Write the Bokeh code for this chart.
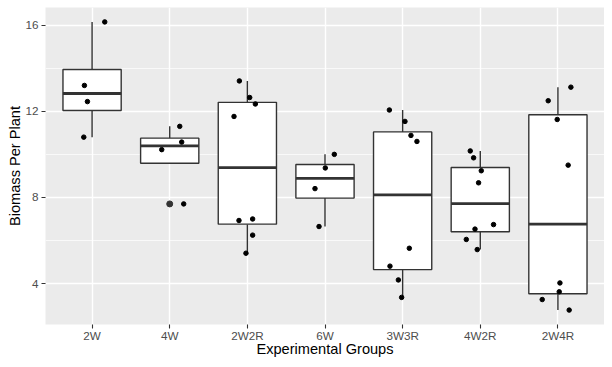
import numpy as np
from bokeh.plotting import figure
from bokeh.models import Range1d, FixedTicker
from bokeh.embed import file_html
from bokeh.resources import INLINE

# ---- data ----
groups = ["2W", "4W", "2W2R", "6W", "3W3R", "4W2R", "2W4R"]

vals_2W = [16.15, 13.2, 12.45, 10.8]
vals_4W = [11.3, 10.57, 10.22, 7.7]
vals_2W2R = [13.41, 12.64, 12.34, 11.76, 6.93, 7.0, 6.25, 5.41]
vals_6W = [10.0, 9.37, 8.41, 6.65]
vals_3W3R = [12.06, 11.53, 10.88, 10.6, 5.64, 4.81, 4.17, 3.36]
vals_4W2R = [10.16, 9.84, 9.24, 8.68, 6.74, 6.53, 6.05, 5.58]
vals_2W4R = [13.12, 12.49, 11.62, 9.5, 4.03, 3.62, 3.26, 2.77]

# horizontal jitter of each point (category units)
jit_2W = [0.163, -0.099, -0.060, -0.107]
jit_4W = [0.129, 0.154, -0.103, 0.18]
jit_2W2R = [-0.103, 0.03, 0.103, -0.172, -0.108, 0.068, 0.068, -0.018]
jit_6W = [0.12, 0.004, -0.129, -0.077]
jit_3W3R = [-0.171, 0.03, 0.107, 0.184, 0.086, -0.163, -0.055, -0.013]
jit_4W2R = [-0.129, -0.086, 0.013, -0.022, 0.171, -0.068, -0.18, -0.039]
jit_2W4R = [0.167, -0.125, -0.009, 0.132, 0.026, 0.017, -0.202, 0.145]

y_ticks = [4, 8, 12, 16]
y_minor = [6, 10, 14]

x_title = "Experimental Groups"
y_title = "Biomass Per Plant"

all_vals = [vals_2W, vals_4W, vals_2W2R, vals_6W, vals_3W3R, vals_4W2R, vals_2W4R]
all_jit = [jit_2W, jit_4W, jit_2W2R, jit_6W, jit_3W3R, jit_4W2R, jit_2W4R]

# ---- box statistics ----
xs = list(range(1, len(groups) + 1))
q1s, meds, q3s, los, his = [], [], [], [], []
out_x, out_y = [], []
pt_x, pt_y = [], []
for x, v, j in zip(xs, all_vals, all_jit):
    a = np.array(v)
    q1, med, q3 = np.percentile(a, [25, 50, 75])
    iqr = q3 - q1
    inside = a[(a >= q1 - 1.5 * iqr) & (a <= q3 + 1.5 * iqr)]
    q1s.append(q1); meds.append(med); q3s.append(q3)
    los.append(inside.min()); his.append(inside.max())
    for val in a:
        if val < q1 - 1.5 * iqr or val > q3 + 1.5 * iqr:
            out_x.append(x); out_y.append(val)
    pt_x.extend([x + d for d in j]); pt_y.extend(v)

flat = np.concatenate([np.array(v) for v in all_vals])
lo, hi = flat.min(), flat.max()
pad = 0.05 * (hi - lo)

p = figure(width=604, height=359, output_backend="svg", toolbar_location=None,
           x_range=Range1d(0.4, len(groups) + 0.6),
           y_range=Range1d(lo - pad, hi + pad),
           min_border_left=45, min_border_right=0, min_border_top=7,
           min_border_bottom=30)
p.background_fill_color = "#EBEBEB"
p.border_fill_color = "white"
p.outline_line_color = None

p.xaxis.ticker = FixedTicker(ticks=xs, minor_ticks=[])
p.xaxis.major_label_overrides = {x: g for x, g in zip(xs, groups)}
p.yaxis.ticker = FixedTicker(ticks=y_ticks, minor_ticks=y_minor)

for ax in (p.xaxis[0], p.yaxis[0]):
    ax.axis_line_color = None
    ax.major_tick_line_color = "#333333"
    ax.major_tick_line_width = 1.1
    ax.major_tick_out = 4
    ax.major_tick_in = 0
    ax.minor_tick_line_color = None
    ax.major_label_text_font = "Liberation Sans"
    ax.major_label_text_font_size = "11.7px"
    ax.major_label_text_color = "#4D4D4D"
    ax.major_label_standoff = 3
    ax.axis_label_text_font = "Liberation Sans"
    ax.axis_label_text_font_size = "14.6px"
    ax.axis_label_text_font_style = "normal"
    ax.axis_label_text_color = "black"
    ax.axis_label_standoff = 3

p.xaxis.major_label_standoff = 0
p.xaxis.axis_label_standoff = -4
p.yaxis.axis_label_standoff = -1
p.xaxis.axis_label = x_title
p.yaxis.axis_label = y_title

p.xgrid.grid_line_color = "white"
p.xgrid.grid_line_width = 1.4
p.ygrid.grid_line_color = "white"
p.ygrid.grid_line_width = 1.4
p.ygrid.minor_grid_line_color = "white"
p.ygrid.minor_grid_line_width = 0.7

hw = 0.375
edge = "#333333"
p.segment(x0=xs, y0=q3s, x1=xs, y1=his, line_color=edge, line_width=1.4)
p.segment(x0=xs, y0=q1s, x1=xs, y1=los, line_color=edge, line_width=1.4)
p.quad(left=[x - hw for x in xs], right=[x + hw for x in xs], bottom=q1s, top=q3s,
       fill_color="white", line_color=edge, line_width=1.4)
p.segment(x0=[x - hw for x in xs], y0=meds, x1=[x + hw for x in xs], y1=meds,
          line_color=edge, line_width=2.8)
p.scatter(out_x, out_y, size=6, fill_color=edge, line_color=edge)
p.scatter(pt_x, pt_y, size=4.5, fill_color="black", line_color="black")

open("out.html", "w").write(file_html(p, INLINE))
